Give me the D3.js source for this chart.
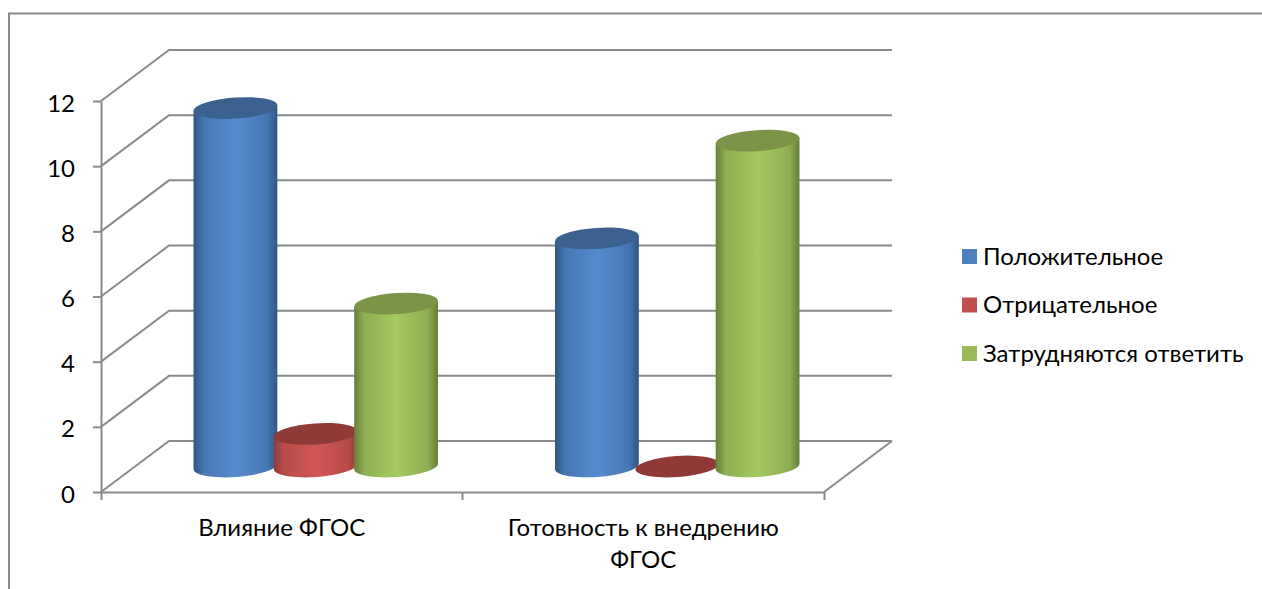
<!DOCTYPE html>
<html lang="ru">
<head>
<meta charset="UTF-8">
<title>ФГОС</title>
<script src="https://d3js.org/d3.v7.min.js"></script>
<style>
  html, body {margin: 0; padding: 0; background: #fff; overflow: hidden;}
  text {font-family: Lato, "Open Sans", sans-serif; fill: #000;}
  .wall {fill: none; stroke: #8a8a8a; stroke-width: 2;}
  .axis path, .axis line {stroke: #8a8a8a; stroke-width: 2;}
</style>
</head>
<body>
<svg width="1262" height="589"></svg>
<script>
const categories = ["Влияние ФГОС", "Готовность к внедрению ФГОС"];
const seriesNames = ["Положительное", "Отрицательное", "Затрудняются ответить"];
const positive = [11, 7];
const negative = [1, 0];
const unsure = [5, 10];
const yTicks = [0, 2, 4, 6, 8, 10, 12];

const seriesValues = [positive, negative, unsure];
const bodyColors = [
  ["#2f5584", "#568bcf"],
  ["#8f3b39", "#d05653"],
  ["#667f38", "#a5ca60"]
];
const capColors = ["#3b618f", "#903a38", "#7b9448"];
const legendColors = ["#4f81bd", "#c0504d", "#9bbb59"];

const svg = d3.select("svg");
const depthX = 68, depthY = 51;
const rx = 42, ry = 10.5, tilt = -4;

const x = d3.scaleBand().domain(categories).range([101, 824]);
const y = d3.scaleLinear().domain([0, 12]).range([492, 101]);
const xInner = d3.scaleBand().domain(seriesNames).range([-120.5, 120.5]);

// outer frame runs off the page on the right and bottom
svg.append("path").attr("class", "wall").attr("d", "M9,600V13.5H1270");

// gridlines with the slanted side wall, and the floor
yTicks.forEach(t => {
  const p = d3.path();
  p.moveTo(x.range()[0], y(t));
  p.lineTo(x.range()[0] + depthX, y(t) - depthY);
  p.lineTo(x.range()[1] + depthX, y(t) - depthY);
  svg.append("path").attr("class", "wall").attr("d", p.toString());
});
svg.append("path").attr("class", "wall")
  .attr("d", `M${x.range()[1]},${y(0)}L${x.range()[1] + depthX},${y(0) - depthY}`);

// axes
const yAxis = svg.append("g").attr("class", "axis")
  .attr("transform", `translate(${x.range()[0]},0)`)
  .call(d3.axisLeft(y).tickValues(yTicks).tickSize(8).tickSizeOuter(0).tickPadding(18));
yAxis.selectAll("text").style("font-size", "24px").attr("fill", "#000").attr("dy", "0.42em");

const xAxis = svg.append("g").attr("class", "axis")
  .attr("transform", `translate(0,${y(0)})`)
  .call(d3.axisBottom(x).tickSize(0).tickSizeOuter(8).tickPadding(27));
xAxis.selectAll("text").style("font-size", "24px").attr("fill", "#000").call(wrap, 300);
// middle tick between the two categories
xAxis.append("line").attr("x1", x(categories[1])).attr("x2", x(categories[1])).attr("y1", 0).attr("y2", 8);

function wrap(sel, width) {
  sel.each(function () {
    const text = d3.select(this);
    const words = text.text().split(" ");
    const yy = text.attr("y"), dy = parseFloat(text.attr("dy"));
    text.text(null);
    let line = [];
    let ts = text.append("tspan").attr("x", 0).attr("y", yy).attr("dy", dy + "em");
    words.forEach(w => {
      line.push(w);
      ts.text(line.join(" "));
      if (ts.node().getComputedTextLength() > width && line.length > 1) {
        line.pop();
        ts.text(line.join(" "));
        line = [w];
        ts = text.append("tspan").attr("x", 0).attr("y", yy).attr("dy", (dy + 1.33) + "em").text(w);
      }
    });
  });
}

// gradients for the cylinder sides
const defs = svg.append("defs");
seriesNames.forEach((s, i) => {
  const mid = d3.interpolateRgb(bodyColors[i][0], bodyColors[i][1])(0.62);
  const g = defs.append("linearGradient").attr("id", "side" + i);
  [[0, bodyColors[i][0]], [12, mid], [50, bodyColors[i][1]], [88, mid], [100, bodyColors[i][0]]].forEach(st => {
    g.append("stop").attr("offset", st[0] + "%").attr("stop-color", st[1]);
  });
});

// cylinders, series by series so later ones overlap earlier ones
const rad = tilt * Math.PI / 180;
const ex = rx * Math.cos(rad), ey = rx * Math.sin(rad);
categories.forEach((c, ci) => {
  seriesNames.forEach((s, si) => {
    const v = seriesValues[si][ci];
    const cx = x(c) + x.bandwidth() / 2 + depthX / 2 + xInner(s) + xInner.bandwidth() / 2;
    const cyTop = y(v) - depthY / 2;
    const cyBase = y(0) - depthY / 2;
    if (v > 0) {
      svg.append("path")
        .attr("fill", `url(#side${si})`)
        .attr("d", `M${cx - ex},${cyTop - ey}` +
          `L${cx - ex},${cyBase - ey}` +
          `A${rx},${ry} ${tilt} 0 0 ${cx + ex},${cyBase + ey}` +
          `L${cx + ex},${cyTop + ey}Z`);
    }
    svg.append("ellipse")
      .attr("cx", cx).attr("cy", cyTop)
      .attr("rx", rx).attr("ry", ry)
      .attr("transform", `rotate(${tilt} ${cx} ${cyTop})`)
      .attr("fill", capColors[si]);
  });
});

// legend
const legendY = d3.scalePoint().domain(seriesNames).range([256.5, 353.5]);
seriesNames.forEach((s, i) => {
  svg.append("rect").attr("x", 962).attr("y", legendY(s) - 7.5)
    .attr("width", 15).attr("height", 15).attr("fill", legendColors[i]);
  svg.append("text").attr("x", 983).attr("y", legendY(s) + 8)
    .style("font-size", "24px").text(s);
});
</script>
</body>
</html>
